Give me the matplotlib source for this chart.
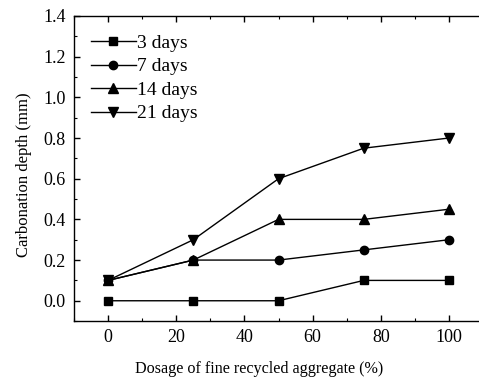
import matplotlib
matplotlib.use("Agg")
import matplotlib.pyplot as plt
from matplotlib.ticker import MultipleLocator

plt.rcParams['font.family'] = ['Liberation Serif', 'DejaVu Serif']

# data
dosage = [0, 25, 50, 75, 100]
depth_3d = [0.0, 0.0, 0.0, 0.1, 0.1]
depth_7d = [0.1, 0.2, 0.2, 0.25, 0.3]
depth_14d = [0.1, 0.2, 0.4, 0.4, 0.45]
depth_21d = [0.1, 0.3, 0.6, 0.75, 0.8]

series = [
    ("3 days", depth_3d, "s", 5.5),
    ("7 days", depth_7d, "o", 6),
    ("14 days", depth_14d, "^", 6.5),
    ("21 days", depth_21d, "v", 6.5),
]

fig = plt.figure(figsize=(4.79, 3.80), dpi=100)
# axes runs a bit past the right edge, like the cropped reference
ax = fig.add_axes([0.1545, 0.155, 0.854, 0.803])

for label, vals, mk, ms in series:
    ax.plot(dosage, vals, color="black", linewidth=1.0, marker=mk,
            markersize=ms, label=label)

ax.set_xlim(-10, 110)
ax.set_ylim(-0.1, 1.4)
ax.xaxis.set_major_locator(MultipleLocator(20))
ax.xaxis.set_minor_locator(MultipleLocator(10))
ax.set_yticks([0.0, 0.2, 0.4, 0.6, 0.8, 1.0, 1.2, 1.4])
ax.set_yticklabels(["0.0", "0.2", "0.4", "0.6", "0.8", "1.0", "1.2", "1.4"])
ax.yaxis.set_minor_locator(MultipleLocator(0.1))
ax.tick_params(which="both", direction="in", top=True, right=False,
               labelsize=13)
ax.tick_params(which="major", length=4, width=1, pad=6)
ax.tick_params(which="minor", length=2, width=0.8)
ax.spines["right"].set_visible(False)
for sp in ax.spines.values():
    sp.set_linewidth(1.0)

ax.set_xlabel("Dosage of fine recycled aggregate (%)", fontsize=11.6)
ax.set_ylabel("Carbonation depth (mm)", fontsize=12)
ax.xaxis.set_label_coords(0.452, -0.132)
ax.yaxis.set_label_coords(-0.103, 0.479)

ax.legend(loc="upper left", frameon=False, fontsize=14, handlelength=2.3,
          handletextpad=0.1, labelspacing=0.3, borderaxespad=0.0,
          bbox_to_anchor=(0.022, 0.965))

fig.savefig("out.png", dpi=100)
